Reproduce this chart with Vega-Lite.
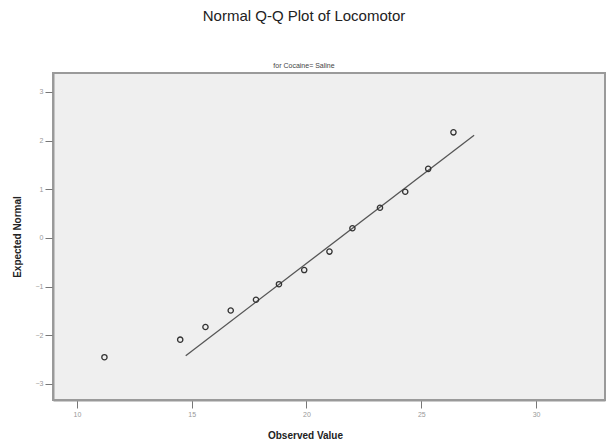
{
  "$schema": "https://vega.github.io/schema/vega-lite/v6.json",
  "width": 552,
  "height": 327,
  "autosize": "none",
  "padding": {"left": 53, "top": 73, "right": 4, "bottom": 42},
  "background": "white",
  "title": {
    "text": "Normal Q-Q Plot of Locomotor",
    "subtitle": "for Cocaine= Saline",
    "anchor": "middle",
    "dx": -25,
    "fontSize": 15,
    "fontWeight": "normal",
    "font": "Liberation Sans",
    "color": "#222",
    "subtitleFont": "Liberation Sans",
    "subtitleFontSize": 7,
    "subtitleColor": "#444",
    "subtitlePadding": 38,
    "offset": 4
  },
  "config": {
    "view": {"stroke": "#9a9a9a", "strokeWidth": 2, "fill": "#efefef"},
    "axis": {
      "grid": false,
      "labelFont": "Liberation Sans",
      "labelFontSize": 7,
      "labelColor": "#999",
      "tickColor": "#777",
      "tickSize": 8,
      "domainColor": "#999",
      "domainWidth": 2,
      "titleFont": "Liberation Sans",
      "titleFontSize": 10,
      "titleFontWeight": "bold",
      "titleColor": "#222"
    }
  },
  "datasets": {
    "points": [
      {"observed": 11.2, "expected": -2.45},
      {"observed": 14.5, "expected": -2.09},
      {"observed": 15.6, "expected": -1.83},
      {"observed": 16.7, "expected": -1.49},
      {"observed": 17.8, "expected": -1.27},
      {"observed": 18.8, "expected": -0.95},
      {"observed": 19.9, "expected": -0.66},
      {"observed": 21.0, "expected": -0.28},
      {"observed": 22.0, "expected": 0.2},
      {"observed": 23.2, "expected": 0.62},
      {"observed": 24.3, "expected": 0.95},
      {"observed": 25.3, "expected": 1.42},
      {"observed": 26.4, "expected": 2.17}
    ],
    "refline": [
      {"observed": 14.74, "expected": -2.42},
      {"observed": 27.3, "expected": 2.11}
    ]
  },
  "layer": [
    {
      "data": {"name": "refline"},
      "mark": {"type": "line", "color": "#555", "strokeWidth": 1.3},
      "encoding": {
        "x": {"field": "observed", "type": "quantitative", "scale": {"domain": [8.96, 33], "nice": false, "zero": false},
          "axis": {"title": "Observed Value", "values": [10, 15, 20, 25, 30], "titleX": 252, "titleY": 30, "labelPadding": 2}},
        "y": {"field": "expected", "type": "quantitative", "scale": {"domain": [-3.33, 3.39], "nice": false, "zero": false},
          "axis": {"title": "Expected Normal", "values": [-3, -2, -1, 0, 1, 2, 3], "titleX": -31, "labelPadding": 2}}
      }
    },
    {
      "data": {"name": "points"},
      "mark": {"type": "point", "shape": "circle", "filled": false, "stroke": "#333", "strokeWidth": 1.3, "size": 28, "opacity": 1},
      "encoding": {
        "x": {"field": "observed", "type": "quantitative"},
        "y": {"field": "expected", "type": "quantitative"}
      }
    }
  ]
}
